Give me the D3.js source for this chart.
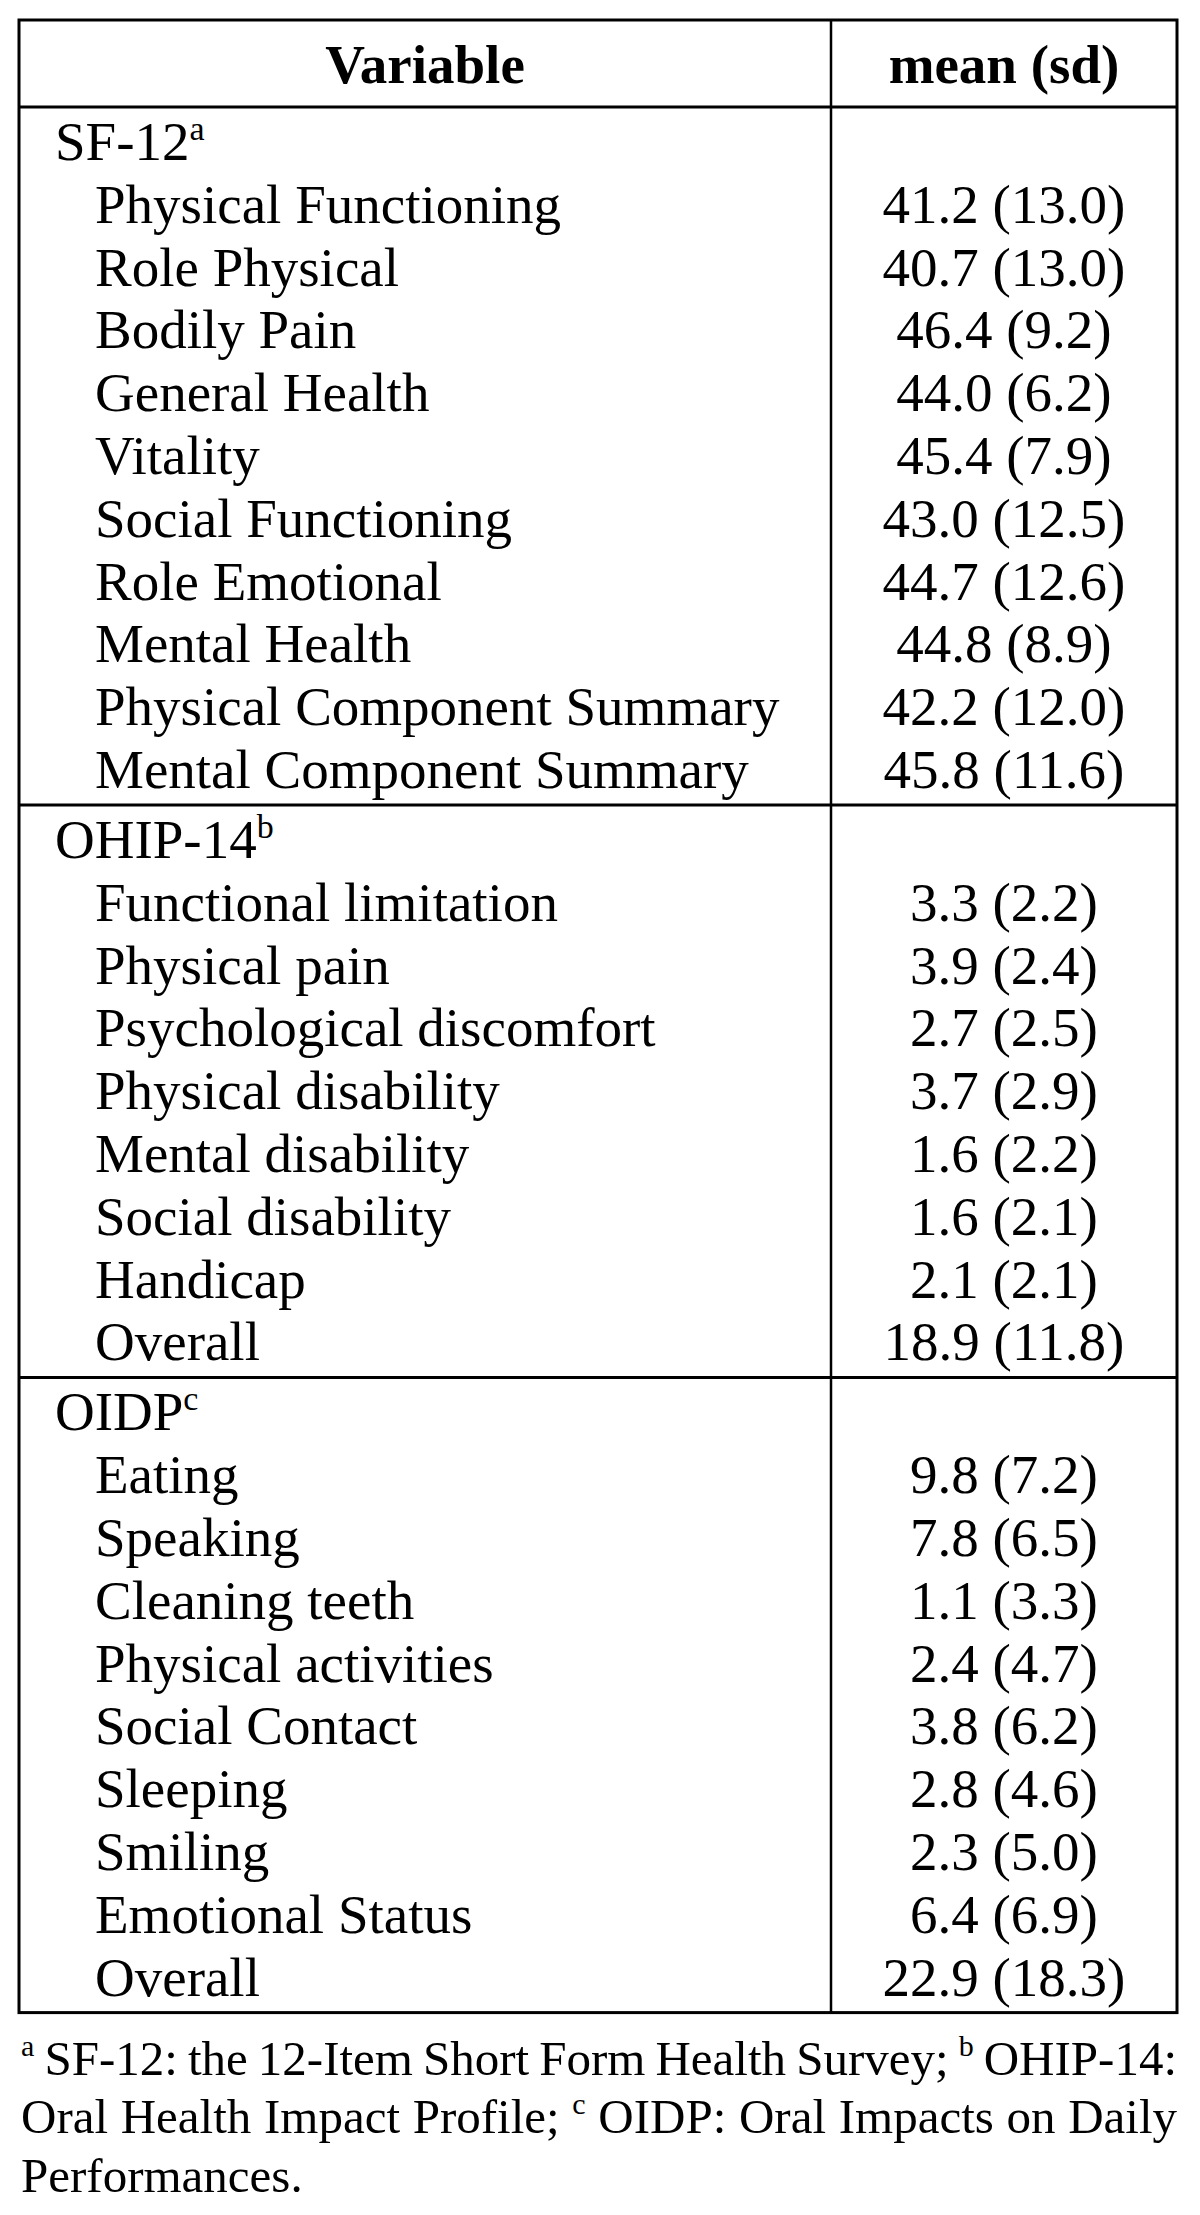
<!DOCTYPE html>
<html lang="en">

<head>
    <meta charset="UTF-8">
    <title>SF-12, OHIP-14 and OIDP scores</title>
    <script src="https://cdn.jsdelivr.net/npm/d3@7"></script>
    <style>
        body {
            margin: 0;
            background: #fff;
        }

        text {
            font-family: "Liberation Serif", "Times New Roman", serif;
            fill: #000;
        }
    </style>
</head>

<body>
    <svg width="1200" height="2215"></svg>

    <script>
        // table data
        const headers = ["Variable", "mean (sd)"];
        const sectionNames = ["SF-12", "OHIP-14", "OIDP"];
        const sectionSup = ["a", "b", "c"];

        const sf12Items = ["Physical Functioning", "Role Physical", "Bodily Pain", "General Health", "Vitality",
            "Social Functioning", "Role Emotional", "Mental Health", "Physical Component Summary", "Mental Component Summary"];
        const sf12Mean = [41.2, 40.7, 46.4, 44.0, 45.4, 43.0, 44.7, 44.8, 42.2, 45.8];
        const sf12Sd = [13.0, 13.0, 9.2, 6.2, 7.9, 12.5, 12.6, 8.9, 12.0, 11.6];

        const ohipItems = ["Functional limitation", "Physical pain", "Psychological discomfort", "Physical disability",
            "Mental disability", "Social disability", "Handicap", "Overall"];
        const ohipMean = [3.3, 3.9, 2.7, 3.7, 1.6, 1.6, 2.1, 18.9];
        const ohipSd = [2.2, 2.4, 2.5, 2.9, 2.2, 2.1, 2.1, 11.8];

        const oidpItems = ["Eating", "Speaking", "Cleaning teeth", "Physical activities", "Social Contact", "Sleeping",
            "Smiling", "Emotional Status", "Overall"];
        const oidpMean = [9.8, 7.8, 1.1, 2.4, 3.8, 2.8, 2.3, 6.4, 22.9];
        const oidpSd = [7.2, 6.5, 3.3, 4.7, 6.2, 4.6, 5.0, 6.9, 18.3];

        // footnote lines, each a list of [text, isSuperscript]
        const footLines = [
            [["a", true], [" SF-12: the 12-Item Short Form Health Survey; ", false], ["b", true], [" OHIP-14:", false]],
            [["Oral Health Impact Profile; ", false], ["c", true], [" OIDP: Oral Impacts on Daily", false]],
            [["Performances.", false]]
        ];

        const svg = d3.select("svg");

        const tblLeft = 19, tblRight = 1177, divider = 831;
        const tblTop = 20, headerLine = 107;
        const rowH = 62.8;
        const fontSize = 55;
        const fmt = d3.format(".1f");

        const sections = [
            { items: sf12Items, mean: sf12Mean, sd: sf12Sd },
            { items: ohipItems, mean: ohipMean, sd: ohipSd },
            { items: oidpItems, mean: oidpMean, sd: oidpSd }
        ];

        // build rows + separator positions
        let rows = [];
        let seps = [];
        let yCur = headerLine;
        sections.forEach(function (s, i) {
            const base = yCur + 53;
            const yRow = d3.scaleLinear().domain([0, 1]).range([base, base + rowH]);
            rows.push({ label: sectionNames[i], sup: sectionSup[i], value: "", y: yRow(0), indent: false });
            s.items.forEach(function (it, j) {
                rows.push({
                    label: it, sup: null,
                    value: fmt(s.mean[j]) + " (" + fmt(s.sd[j]) + ")",
                    y: yRow(j + 1), indent: true
                });
            });
            yCur = yRow(s.items.length) + 17;
            seps.push(yCur);
        });
        const tblBottom = seps[seps.length - 1];

        const colX = d3.scaleOrdinal().domain(["label", "indent", "value"]).range([55, 95, (divider + tblRight) / 2]);

        // grid
        const grid = svg.append("g").attr("stroke", "#000").attr("fill", "none");
        grid.append("rect")
            .attr("x", tblLeft).attr("y", tblTop)
            .attr("width", tblRight - tblLeft).attr("height", tblBottom - tblTop)
            .attr("stroke-width", 3);
        grid.selectAll("line.h")
            .data([headerLine].concat(seps.slice(0, -1)))
            .enter().append("line")
            .attr("x1", tblLeft).attr("x2", tblRight)
            .attr("y1", d => d).attr("y2", d => d)
            .attr("stroke-width", 3);
        grid.append("line")
            .attr("x1", divider).attr("x2", divider)
            .attr("y1", tblTop).attr("y2", tblBottom)
            .attr("stroke-width", 2.5);

        // header
        svg.selectAll("text.head")
            .data(headers)
            .enter().append("text")
            .attr("class", "head")
            .attr("x", (d, i) => i === 0 ? (tblLeft + divider) / 2 : (divider + tblRight) / 2)
            .attr("y", 83)
            .attr("text-anchor", "middle")
            .attr("font-weight", "bold")
            .attr("font-size", fontSize)
            .text(d => d);

        // body labels
        const lab = svg.selectAll("text.lab")
            .data(rows)
            .enter().append("text")
            .attr("class", "lab")
            .attr("x", d => colX(d.indent ? "indent" : "label"))
            .attr("y", d => d.y)
            .attr("font-size", fontSize);
        lab.append("tspan").text(d => d.label);
        lab.filter(d => d.sup)
            .append("tspan")
            .attr("dy", -20)
            .attr("font-size", 34)
            .text(d => d.sup);

        // values
        svg.selectAll("text.val")
            .data(rows.filter(d => d.value))
            .enter().append("text")
            .attr("class", "val")
            .attr("x", colX("value"))
            .attr("y", d => d.y)
            .attr("text-anchor", "middle")
            .attr("font-size", fontSize)
            .text(d => d.value);

        // footnote, justified between the table edges
        const footY = [2075, 2133, 2192];
        footLines.forEach(function (parts, i) {
            const t = svg.append("text")
                .attr("x", tblLeft + 2)
                .attr("y", footY[i])
                .attr("font-size", 49);
            let raised = false;
            parts.forEach(function (p) {
                const ts = t.append("tspan").text(p[0]);
                if (p[1]) {
                    ts.attr("font-size", 30).attr("dy", -19);
                    raised = true;
                } else if (raised) {
                    ts.attr("dy", 19);
                    raised = false;
                }
            });
            if (i < footLines.length - 1) {
                const full = parts.map(p => p[0]).join("");
                const nSpaces = (full.match(/ /g) || []).length;
                const w = t.node().getComputedTextLength();
                t.attr("word-spacing", (tblRight - tblLeft - 2 - w) / nSpaces);
            }
        });
    </script>
</body>

</html>
